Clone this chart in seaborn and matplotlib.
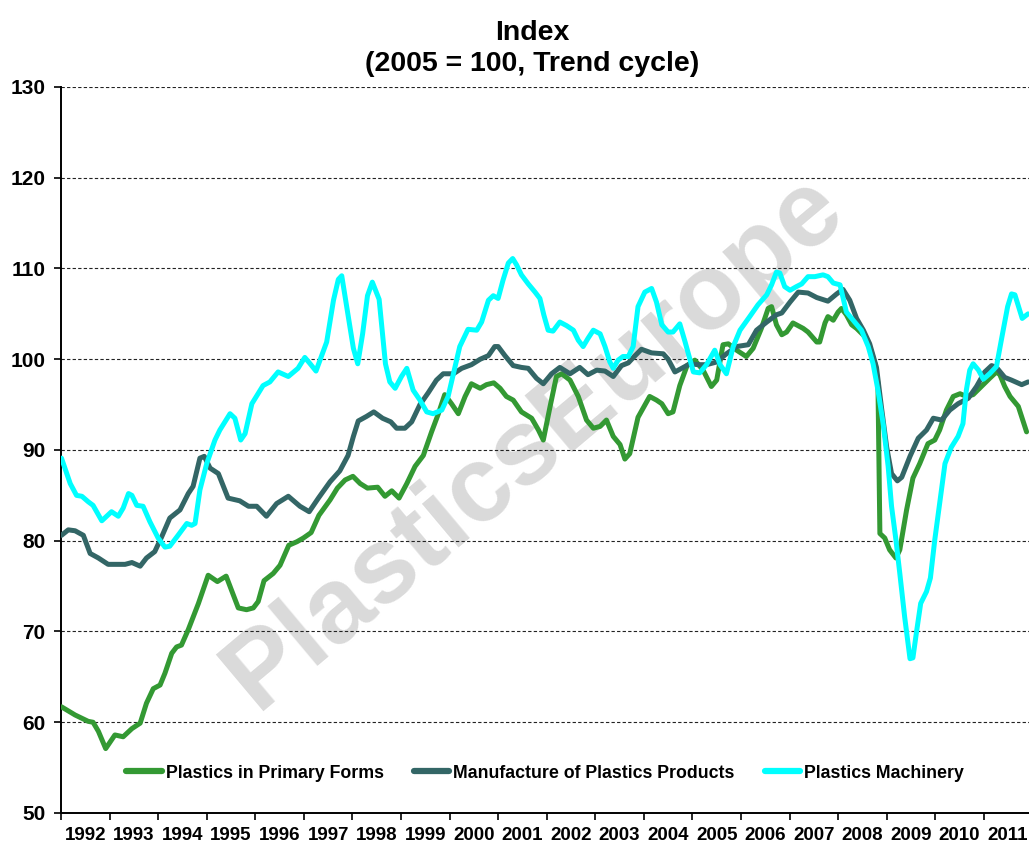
import matplotlib
matplotlib.use("Agg")
import matplotlib.pyplot as plt
from matplotlib.lines import Line2D
import seaborn as sns
import pandas as pd
import numpy as np

# ---------------- data ----------------
series_names = ["Plastics in Primary Forms",
                "Manufacture of Plastics Products",
                "Plastics Machinery"]
series_colors = ["#339933", "#336666", "#00FFFF"]

primary_t = [1992.01, 1992.29, 1992.56, 1992.66, 1992.77, 1992.92, 1993.11, 1993.28, 1993.46, 1993.63,
             1993.76, 1993.90, 1994.04, 1994.14, 1994.28, 1994.38, 1994.48, 1994.62, 1994.83, 1995.03,
             1995.22, 1995.40, 1995.55, 1995.65, 1995.82, 1995.96, 1996.06, 1996.18, 1996.37, 1996.51,
             1996.69, 1996.86, 1996.99, 1997.15, 1997.31, 1997.54, 1997.69, 1997.85, 1998.01, 1998.16,
             1998.31, 1998.52, 1998.67, 1998.81, 1998.96, 1999.12, 1999.29, 1999.46, 1999.63, 1999.77,
             1999.90, 2000.04, 2000.18, 2000.32, 2000.45, 2000.63, 2000.76, 2000.91, 2001.04, 2001.17,
             2001.31, 2001.48, 2001.69, 2001.83, 2001.93, 2002.07, 2002.20, 2002.31, 2002.48, 2002.65,
             2002.82, 2002.96, 2003.10, 2003.23, 2003.37, 2003.51, 2003.61, 2003.71, 2003.88, 2004.12,
             2004.26, 2004.37, 2004.50, 2004.60, 2004.74, 2004.89, 2005.05, 2005.22, 2005.39, 2005.50,
             2005.63, 2005.74, 2005.91, 2006.11, 2006.25, 2006.42, 2006.56, 2006.63, 2006.73, 2006.84,
             2006.94, 2007.07, 2007.28, 2007.38, 2007.56, 2007.62, 2007.73, 2007.79, 2007.90, 2008.00,
             2008.07, 2008.17, 2008.28, 2008.38, 2008.55, 2008.65, 2008.76, 2008.82, 2008.86, 2008.96,
             2009.06, 2009.19, 2009.27, 2009.41, 2009.54, 2009.68, 2009.85, 2009.99, 2010.09, 2010.23,
             2010.37, 2010.51, 2010.64, 2010.78, 2010.95, 2011.12, 2011.26, 2011.33, 2011.43, 2011.54,
             2011.71, 2011.88]
primary_v = [61.7, 60.8, 60.1, 60.0, 59.0, 57.1, 58.6, 58.4, 59.3, 59.9,
             62.1, 63.7, 64.1, 65.4, 67.6, 68.3, 68.5, 70.2, 73.1, 76.2,
             75.5, 76.1, 74.0, 72.6, 72.4, 72.6, 73.3, 75.6, 76.4, 77.3,
             79.5, 79.9, 80.3, 80.9, 82.8, 84.5, 85.8, 86.7, 87.1, 86.3,
             85.8, 85.9, 84.9, 85.5, 84.7, 86.3, 88.2, 89.4, 92.0, 94.0,
             96.1, 95.1, 94.0, 95.9, 97.3, 96.8, 97.2, 97.4, 96.8, 95.9,
             95.5, 94.2, 93.5, 92.2, 91.1, 94.8, 98.1, 98.4, 97.7, 95.9,
             93.3, 92.4, 92.6, 93.3, 91.5, 90.6, 89.0, 89.6, 93.6, 95.9,
             95.5, 95.1, 94.0, 94.2, 97.1, 99.3, 99.9, 98.8, 97.0, 97.7,
             101.6, 101.7, 101.0, 100.3, 101.2, 103.4, 105.6, 105.8, 103.8, 102.7,
             103.0, 104.0, 103.4, 103.0, 101.9, 101.9, 104.0, 104.7, 104.3, 105.2,
             105.6, 104.9, 103.8, 103.4, 102.5, 101.4, 99.5, 97.3, 80.8, 80.3,
             79.0, 78.1, 79.0, 83.4, 86.9, 88.5, 90.7, 91.1, 92.2, 94.4,
             95.9, 96.2, 95.9, 96.1, 97.0, 97.9, 98.6, 98.3, 97.0, 95.9,
             94.8, 92.0]

products_t = [1992.01, 1992.15, 1992.29, 1992.46, 1992.60, 1992.77, 1992.97, 1993.32, 1993.46, 1993.63,
              1993.76, 1993.93, 1994.07, 1994.24, 1994.45, 1994.62, 1994.72, 1994.86, 1994.95, 1995.07,
              1995.24, 1995.44, 1995.68, 1995.86, 1996.03, 1996.23, 1996.44, 1996.68, 1996.92, 1997.11,
              1997.30, 1997.54, 1997.74, 1997.91, 1998.02, 1998.12, 1998.29, 1998.44, 1998.62, 1998.79,
              1998.91, 1999.08, 1999.22, 1999.39, 1999.56, 1999.73, 1999.87, 2000.08, 2000.25, 2000.45,
              2000.63, 2000.80, 2000.93, 2001.00, 2001.14, 2001.31, 2001.48, 2001.62, 2001.79, 2001.93,
              2002.10, 2002.27, 2002.48, 2002.68, 2002.85, 2003.03, 2003.20, 2003.37, 2003.54, 2003.68,
              2003.82, 2003.95, 2004.16, 2004.40, 2004.50, 2004.64, 2004.78, 2004.95, 2005.12, 2005.29,
              2005.50, 2005.70, 2005.91, 2006.15, 2006.32, 2006.53, 2006.73, 2006.84, 2007.01, 2007.18,
              2007.38, 2007.56, 2007.79, 2007.97, 2008.10, 2008.24, 2008.38, 2008.52, 2008.65, 2008.79,
              2008.89, 2009.00, 2009.10, 2009.22, 2009.31, 2009.48, 2009.65, 2009.82, 2009.96, 2010.13,
              2010.30, 2010.47, 2010.68, 2010.85, 2011.02, 2011.16, 2011.26, 2011.43, 2011.57, 2011.78,
              2011.91]
products_v = [80.6, 81.2, 81.1, 80.6, 78.6, 78.1, 77.4, 77.4, 77.6, 77.2,
              78.1, 78.8, 80.4, 82.5, 83.4, 85.2, 86.0, 89.1, 89.3, 88.0,
              87.4, 84.7, 84.4, 83.8, 83.8, 82.7, 84.1, 84.9, 83.8, 83.2,
              84.7, 86.5, 87.7, 89.4, 91.5, 93.2, 93.7, 94.2, 93.5, 93.1,
              92.4, 92.4, 93.1, 95.0, 96.3, 97.7, 98.4, 98.4, 99.0, 99.4,
              100.0, 100.4, 101.4, 101.4, 100.4, 99.3, 99.1, 99.0, 97.9, 97.3,
              98.4, 99.1, 98.4, 99.1, 98.3, 98.8, 98.7, 98.1, 99.3, 99.6,
              100.4, 101.1, 100.7, 100.6, 100.0, 98.6, 99.0, 99.5, 99.4, 99.4,
              99.7, 100.6, 101.4, 101.6, 103.2, 104.1, 104.9, 105.1, 106.3, 107.4,
              107.3, 106.8, 106.4, 107.2, 107.7, 106.5, 104.5, 103.2, 101.7, 99.1,
              94.8, 90.3, 87.4, 86.6, 87.0, 89.3, 91.3, 92.2, 93.5, 93.3,
              94.4, 95.1, 95.7, 97.0, 98.6, 99.3, 99.1, 98.0, 97.7, 97.2,
              97.5]

machinery_t = [1992.01, 1992.19, 1992.32, 1992.43, 1992.56, 1992.66, 1992.84, 1993.04, 1993.18, 1993.28,
               1993.39, 1993.46, 1993.56, 1993.69, 1993.83, 1994.00, 1994.14, 1994.24, 1994.41, 1994.59,
               1994.69, 1994.76, 1994.86, 1995.00, 1995.17, 1995.27, 1995.48, 1995.58, 1995.70, 1995.79,
               1995.93, 1996.16, 1996.30, 1996.47, 1996.68, 1996.88, 1997.02, 1997.13, 1997.25, 1997.47,
               1997.61, 1997.71, 1997.78, 1997.91, 1998.02, 1998.11, 1998.21, 1998.31, 1998.41, 1998.55,
               1998.68, 1998.77, 1998.88, 1999.01, 1999.12, 1999.25, 1999.39, 1999.53, 1999.66, 1999.84,
               1999.97, 2000.08, 2000.21, 2000.38, 2000.56, 2000.66, 2000.80, 2000.90, 2001.00, 2001.10,
               2001.21, 2001.30, 2001.38, 2001.48, 2001.62, 2001.76, 2001.86, 2001.94, 2002.03, 2002.13,
               2002.27, 2002.41, 2002.55, 2002.65, 2002.75, 2002.85, 2002.96, 2003.10, 2003.20, 2003.30,
               2003.37, 2003.47, 2003.57, 2003.68, 2003.78, 2003.88, 2004.02, 2004.16, 2004.26, 2004.37,
               2004.50, 2004.60, 2004.74, 2004.85, 2005.02, 2005.15, 2005.29, 2005.46, 2005.57, 2005.70,
               2005.84, 2005.98, 2006.18, 2006.35, 2006.53, 2006.63, 2006.73, 2006.80, 2006.90, 2007.01,
               2007.14, 2007.25, 2007.38, 2007.52, 2007.69, 2007.79, 2007.90, 2008.04, 2008.17, 2008.31,
               2008.48, 2008.62, 2008.72, 2008.82, 2008.93, 2009.03, 2009.10, 2009.19, 2009.27, 2009.37,
               2009.48, 2009.54, 2009.61, 2009.70, 2009.82, 2009.90, 2009.99, 2010.09, 2010.20, 2010.33,
               2010.47, 2010.57, 2010.64, 2010.71, 2010.78, 2010.89, 2010.99, 2011.12, 2011.26, 2011.36,
               2011.49, 2011.57, 2011.64, 2011.79, 2011.91]
machinery_v = [89.1, 86.3, 85.0, 84.9, 84.3, 83.9, 82.2, 83.2, 82.7, 83.6,
               85.2, 85.0, 83.9, 83.8, 82.1, 80.3, 79.3, 79.4, 80.6, 81.9,
               81.7, 81.9, 85.6, 88.5, 91.1, 92.2, 94.0, 93.5, 91.1, 91.8,
               95.1, 97.1, 97.5, 98.6, 98.1, 99.0, 100.2, 99.5, 98.7, 101.9,
               106.5, 108.8, 109.2, 104.9, 101.2, 99.5, 102.8, 107.0, 108.5, 106.6,
               99.5, 97.5, 96.8, 98.1, 99.0, 96.6, 95.5, 94.2, 94.0, 94.4,
               95.9, 98.4, 101.4, 103.3, 103.2, 104.1, 106.5, 107.0, 106.7, 108.7,
               110.6, 111.1, 110.4, 109.3, 108.3, 107.4, 106.7, 104.9, 103.2, 103.1,
               104.1, 103.7, 103.2, 102.1, 101.4, 102.3, 103.2, 102.8, 101.4, 99.7,
               99.0, 99.9, 100.3, 100.3, 101.4, 105.8, 107.4, 107.8, 106.3, 103.8,
               103.0, 103.0, 103.9, 101.9, 98.6, 98.5, 99.4, 101.0, 99.4, 98.4,
               101.4, 103.2, 104.7, 106.0, 107.1, 108.2, 109.6, 109.5, 108.0, 107.6,
               108.0, 108.3, 109.1, 109.1, 109.3, 109.1, 108.4, 108.2, 105.2, 104.3,
               103.2, 101.4, 99.5, 96.6, 92.8, 88.2, 83.8, 80.1, 76.4, 71.6,
               67.0, 67.1, 69.8, 73.1, 74.4, 75.9, 80.1, 84.1, 88.5, 90.3,
               91.5, 92.9, 96.6, 98.8, 99.5, 98.8, 97.8, 98.4, 99.2, 102.1,
               105.8, 107.2, 107.1, 104.5, 105.0]

year_labels = [str(y) for y in range(1992, 2012)]
y_ticks = [50, 60, 70, 80, 90, 100, 110, 120, 130]
title_text = "Index\n(2005 = 100, Trend cycle)"
watermark = "PlasticsEurope"

# ---------------- build long table ----------------
frames = []
for name, t, v in [(series_names[0], primary_t, primary_v),
                   (series_names[1], products_t, products_v),
                   (series_names[2], machinery_t, machinery_v)]:
    frames.append(pd.DataFrame({"year": t, "index": v, "series": name}))
df = pd.concat(frames, ignore_index=True)

# ---------------- style ----------------
sns.set_theme(style="white")
plt.rcParams["font.family"] = ["Liberation Sans", "DejaVu Sans"]
plt.rcParams["font.weight"] = "bold"
plt.rcParams["text.color"] = "black"
plt.rcParams["xtick.color"] = "black"
plt.rcParams["ytick.color"] = "black"
plt.rcParams["axes.labelcolor"] = "black"

fig = plt.figure(figsize=(10.29, 8.44), dpi=100)
ax = fig.add_axes([61 / 1029, 1 - 813 / 844, (1029 - 61) / 1029, (813 - 87) / 844])

sns.lineplot(data=df, x="year", y="index", hue="series", hue_order=series_names,
             palette=series_colors, linewidth=3.6, estimator=None, sort=False,
             ax=ax, legend=False, zorder=3)
for ln in ax.lines:
    ln.set_solid_joinstyle("round")
    ln.set_solid_capstyle("round")

# watermark
ax.text(0.489, 0.512, watermark, transform=ax.transAxes, rotation=40,
        rotation_mode="anchor", ha="center", va="center", fontsize=77,
        fontweight="bold", color="#dadada", zorder=0.1)

ax.set_xlim(1992, 2011.93)
ax.set_ylim(50, 130)
ax.set_xlabel("")
ax.set_ylabel("")

# y axis
ax.set_yticks(y_ticks)
ax.set_yticklabels([str(v) for v in y_ticks], fontsize=15, fontweight="bold")
ax.tick_params(axis="y", which="major", direction="out", length=5, width=1.2,
               color="black", labelcolor="black", pad=6, left=True)
ax.yaxis.grid(True, linestyle=(0, (3, 2)), color="#222222", linewidth=0.8)
ax.xaxis.grid(False)
ax.set_axisbelow(True)

# x axis: ticks at year boundaries, labels mid-year
years = np.arange(1992, 2012)
ax.set_xticks(years)
ax.set_xticklabels([])
ax.set_xticks(years + 0.5, minor=True)
ax.set_xticklabels(year_labels, minor=True, fontsize=13.5, fontweight="bold")
ax.tick_params(axis="x", which="major", direction="out", length=5, width=1.2,
               color="black", bottom=True)
ax.tick_params(axis="x", which="minor", length=0, pad=10, labelcolor="black")

for side in ["top", "right"]:
    ax.spines[side].set_visible(False)
for side in ["left", "bottom"]:
    ax.spines[side].set_color("black")
    ax.spines[side].set_linewidth(1.4)

# title
fig.text(532 / 1029, 1 - 20 / 844, title_text, ha="center", va="top",
         fontsize=20.5, fontweight="bold", linespacing=1.25, color="black")

# legend
handles = [Line2D([0], [0], color=c, lw=4.5, solid_capstyle="round") for c in series_colors]
leg = ax.legend(handles, series_names, loc="center", bbox_to_anchor=(0.5, 0.055),
                ncol=3, frameon=False, fontsize=12.8, handlelength=2.0,
                handletextpad=0.2, columnspacing=1.7)
for txt in leg.get_texts():
    txt.set_fontweight("bold")
    txt.set_color("black")

fig.savefig("out.png", dpi=100)
